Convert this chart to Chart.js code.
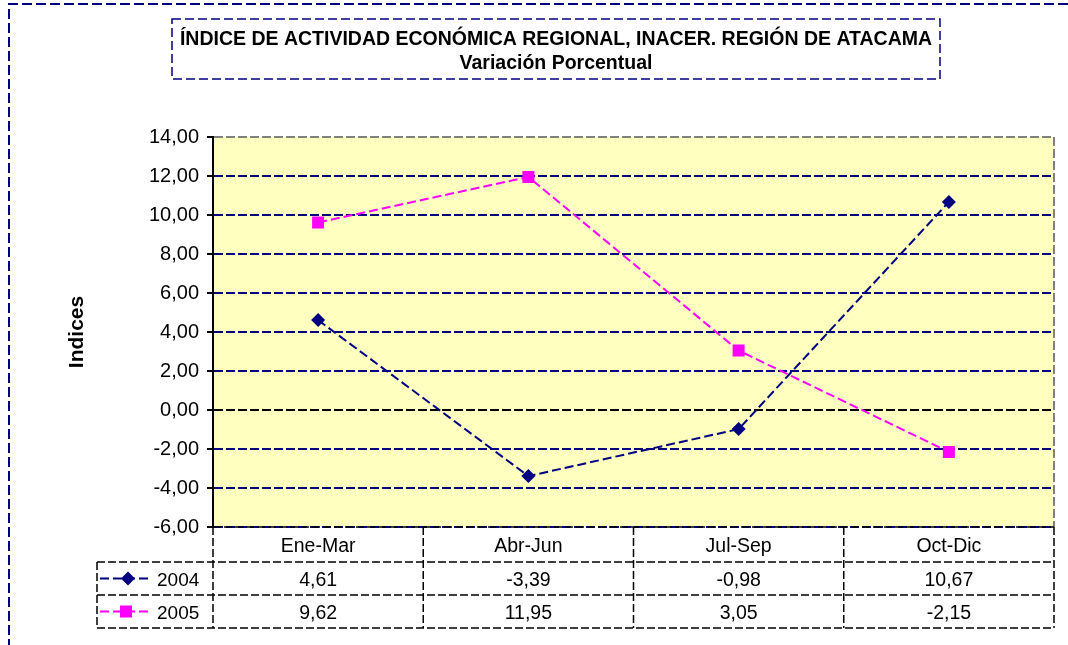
<!DOCTYPE html>
<html lang="es">
<head>
  <meta charset="UTF-8">
  <title>INACER Atacama</title>
  <style>
    * { box-sizing: border-box; margin: 0; padding: 0; }
    body { background: #fff; width: 1068px; height: 645px; overflow: hidden; }
    #wrap { position: relative; width: 1068px; height: 645px; }
  </style>
</head>
<body>
  <div id="wrap">
    <canvas id="chart" width="1068" height="645"></canvas>
  </div>

  <script src="https://cdn.jsdelivr.net/npm/chart.js@4"></script>
  <script>
    const categories = ['Ene-Mar', 'Abr-Jun', 'Jul-Sep', 'Oct-Dic'];
    const serie2004 = [4.61, -3.39, -0.98, 10.67];
    const serie2005 = [9.62, 11.95, 3.05, -2.15];
    const seriesNames = ['2004', '2005'];
    const titleLines = ['ÍNDICE DE ACTIVIDAD ECONÓMICA REGIONAL, INACER. REGIÓN DE ATACAMA', 'Variación Porcentual'];
    const yTitle = 'Indices';

    const navy = '#000080', magenta = '#ff00ff';
    const font = '"Liberation Sans", Arial, sans-serif';
    const fmt = v => v.toFixed(2).replace('.', ',');

    // marco, título, tabla de datos
    const decor = {
      id: 'decor',
      beforeDraw(chart) {
        const { ctx, chartArea: a } = chart;
        ctx.save();
        ctx.fillStyle = '#ffffc0';
        ctx.fillRect(a.left, a.top, a.right - a.left, a.bottom - a.top);
        ctx.restore();
      },
      afterDraw(chart) {
        const { ctx, chartArea: a, scales: { x } } = chart;
        ctx.save();
        // borde exterior
        ctx.strokeStyle = navy; ctx.lineWidth = 2; ctx.setLineDash([10, 4]);
        ctx.beginPath();
        ctx.moveTo(1068, 4); ctx.lineTo(9, 4); ctx.lineTo(9, 645);
        ctx.stroke();
        // caja del título
        ctx.lineWidth = 1.5; ctx.setLineDash([9, 4]);
        ctx.strokeRect(172, 19, 768, 60);
        ctx.setLineDash([]);
        ctx.fillStyle = '#000'; ctx.textAlign = 'center'; ctx.textBaseline = 'middle';
        ctx.font = 'bold 19.5px ' + font;
        ctx.fillText(titleLines[0], 556, 40);
        ctx.fillText(titleLines[1], 556, 64);
        // título eje Y
        ctx.save();
        ctx.translate(77, 332); ctx.rotate(-Math.PI / 2);
        ctx.font = 'bold 21px ' + font;
        ctx.fillText(yTitle, 0, 0);
        ctx.restore();
        // borde derecho del área
        ctx.strokeStyle = '#808080'; ctx.lineWidth = 2; ctx.setLineDash([9, 3]);
        ctx.beginPath();
        ctx.moveTo(a.right, a.top); ctx.lineTo(a.right, a.bottom);
        ctx.stroke();
        // tabla de datos
        const half = (x.getPixelForValue(1) - x.getPixelForValue(0)) / 2;
        const rows = [a.bottom, a.bottom + 35, a.bottom + 68, a.bottom + 101];
        const legL = 97;
        ctx.strokeStyle = '#000'; ctx.lineWidth = 1.5; ctx.setLineDash([8, 3]);
        ctx.beginPath();
        ctx.moveTo(a.left, rows[0]); ctx.lineTo(a.right, rows[0]);
        for (let r = 1; r < rows.length; r++) {
          ctx.moveTo(legL, rows[r]); ctx.lineTo(a.right, rows[r]);
        }
        ctx.moveTo(legL, rows[1]); ctx.lineTo(legL, rows[3]);
        for (let i = 0; i <= categories.length; i++) {
          const px = i < categories.length ? x.getPixelForValue(i) - half : x.getPixelForValue(i - 1) + half;
          ctx.moveTo(px, rows[0]); ctx.lineTo(px, rows[3]);
        }
        ctx.stroke();
        ctx.setLineDash([]);
        ctx.font = '19.5px ' + font; ctx.fillStyle = '#000';
        categories.forEach((c, i) => {
          const cx = x.getPixelForValue(i);
          ctx.fillText(c, cx, (rows[0] + rows[1]) / 2 + 2);
          ctx.fillText(fmt(serie2004[i]), cx, (rows[1] + rows[2]) / 2 + 2);
          ctx.fillText(fmt(serie2005[i]), cx, (rows[2] + rows[3]) / 2 + 2);
        });
        // leyenda dentro de la tabla
        chart.data.datasets.forEach((ds, k) => {
          const cy = (rows[k + 1] + rows[k + 2]) / 2;
          ctx.strokeStyle = ds.borderColor; ctx.lineWidth = 2; ctx.setLineDash([9, 4]);
          ctx.beginPath(); ctx.moveTo(100, cy); ctx.lineTo(148, cy); ctx.stroke();
          ctx.setLineDash([]);
          ctx.fillStyle = ds.borderColor;
          ctx.beginPath();
          if (k === 0) {
            ctx.moveTo(128, cy - 7); ctx.lineTo(135, cy); ctx.lineTo(128, cy + 7); ctx.lineTo(121, cy);
          } else {
            ctx.rect(120, cy - 6, 12, 12);
          }
          ctx.fill();
          ctx.fillStyle = '#000'; ctx.textAlign = 'left';
          ctx.font = '19px ' + font;
          ctx.fillText(seriesNames[k], 157, cy + 2);
          ctx.textAlign = 'center';
        });
        ctx.restore();
      }
    };

    new Chart(document.getElementById('chart'), {
      type: 'line',
      data: {
        labels: categories,
        datasets: [
          { label: seriesNames[0], data: serie2004, borderColor: navy, backgroundColor: navy,
            borderWidth: 2, borderDash: [9, 4], pointStyle: 'rectRot', pointRadius: 7,
            pointBorderWidth: 0, tension: 0 },
          { label: seriesNames[1], data: serie2005, borderColor: magenta, backgroundColor: magenta,
            borderWidth: 2, borderDash: [9, 4], pointStyle: 'rect', pointRadius: 8.5,
            pointBorderWidth: 0, tension: 0 }
        ]
      },
      options: {
        responsive: false,
        animation: false,
        layout: { padding: { left: 0, top: 137, right: 14, bottom: 118 } },
        plugins: { legend: { display: false }, tooltip: { enabled: false } },
        scales: {
          x: { display: false, offset: true },
          y: {
            min: -6, max: 14,
            afterFit: s => { s.width = 213; },
            ticks: { stepSize: 2, callback: v => fmt(v), color: '#000',
                     font: { family: font, size: 20 }, padding: 8 },
            grid: {
              color: c => c.tick.value === 0 ? '#000' : c.tick.value === 14 ? '#808080' : navy,
              lineWidth: 2,
              tickColor: '#000', tickLength: 6, tickWidth: 2
            },
            border: { color: '#000', width: 2, dash: [9, 3] }
          }
        }
      },
      plugins: [decor]
    });
  </script>
</body>
</html>
